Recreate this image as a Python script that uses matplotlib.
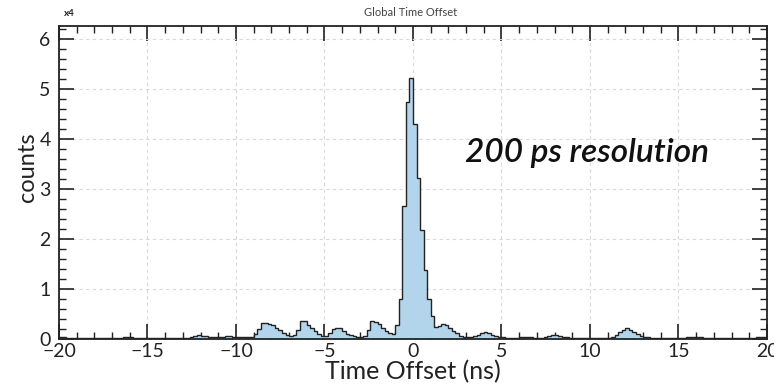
import numpy as np
import matplotlib
matplotlib.use("Agg")
import matplotlib.pyplot as plt
from matplotlib.ticker import MultipleLocator

# bin edges: 0.2 ns bins from -20 to 20 ns
edges = np.linspace(-20, 20, 201)

# counts in units of 1e4, one row per 2 ns
counts = [
    0.03, 0.03, 0.02, 0.01, 0.01, 0.01, 0.01, 0.01, 0.01, 0.01,   # -20..-18
    0.01, 0.01, 0.01, 0.01, 0.01, 0.01, 0.01, 0.02, 0.03, 0.03,   # -18..-16
    0.03, 0.02, 0.01, 0.01, 0.01, 0.01, 0.01, 0.01, 0.01, 0.01,   # -16..-14
    0.01, 0.01, 0.01, 0.01, 0.01, 0.01, 0.02, 0.04, 0.06, 0.07,   # -14..-12
    0.06, 0.05, 0.04, 0.04, 0.03, 0.03, 0.04, 0.05, 0.05, 0.04,   # -12..-10
    0.03, 0.03, 0.03, 0.03, 0.04, 0.09, 0.20, 0.31, 0.31, 0.30,   # -10..-8
    0.27, 0.22, 0.18, 0.12, 0.08, 0.05, 0.08, 0.18, 0.35, 0.35,   # -8..-6
    0.28, 0.22, 0.16, 0.10, 0.06, 0.06, 0.11, 0.19, 0.21, 0.21,   # -6..-4
    0.15, 0.10, 0.07, 0.05, 0.04, 0.04, 0.06, 0.18, 0.35, 0.33,   # -4..-2
    0.30, 0.22, 0.15, 0.12, 0.10, 0.27, 0.80, 2.65, 4.75, 5.23,   # -2..0
    4.31, 3.22, 2.17, 1.38, 0.80, 0.46, 0.24, 0.25, 0.30, 0.27,   # 0..2
    0.22, 0.16, 0.11, 0.06, 0.03, 0.03, 0.03, 0.05, 0.07, 0.12,   # 2..4
    0.14, 0.11, 0.08, 0.06, 0.04, 0.03, 0.02, 0.02, 0.02, 0.02,   # 4..6
    0.03, 0.04, 0.04, 0.03, 0.02, 0.02, 0.02, 0.03, 0.05, 0.07,   # 6..8
    0.07, 0.06, 0.04, 0.03, 0.02, 0.01, 0.01, 0.01, 0.01, 0.01,   # 8..10
    0.01, 0.01, 0.01, 0.01, 0.01, 0.02, 0.04, 0.08, 0.14, 0.17,   # 10..12
    0.21, 0.18, 0.14, 0.09, 0.06, 0.04, 0.03, 0.02, 0.01, 0.01,   # 12..14
    0.01, 0.01, 0.01, 0.01, 0.01, 0.01, 0.02, 0.03, 0.04, 0.04,   # 14..16
    0.04, 0.03, 0.02, 0.01, 0.01, 0.01, 0.01, 0.01, 0.01, 0.01,   # 16..18
    0.01, 0.01, 0.01, 0.01, 0.01, 0.01, 0.02, 0.03, 0.04, 0.04,   # 18..20
]

xticks = [-20, -15, -10, -5, 0, 5, 10, 15, 20]
yticks = [0, 1, 2, 3, 4, 5, 6]

plt.rcParams['font.family'] = ['Lato', 'DejaVu Sans']

fig = plt.figure(figsize=(7.74, 3.91), dpi=100)
ax = fig.add_axes([0.0762, 0.133, 0.9147, 0.8005])

ax.stairs(counts, edges, fill=True, color='#b3d5ec', zorder=2)
ax.stairs(counts, edges, color='#222222', linewidth=1.0, zorder=3)

ax.set_xlim(-20, 20)
ax.set_ylim(0, 6.26)
ax.set_xticks(xticks)
ax.set_yticks(yticks)
ax.xaxis.set_minor_locator(MultipleLocator(1))
ax.yaxis.set_minor_locator(MultipleLocator(0.2))
ax.tick_params(which='both', direction='in', top=True, right=True,
               labelsize=14, colors='#222222')
ax.tick_params(which='major', length=11, width=1.2)
ax.tick_params(which='minor', length=5, width=1.0)
ax.tick_params(axis='x', pad=3)
ax.tick_params(axis='y', pad=6)
for s in ax.spines.values():
    s.set_linewidth(1.3)
    s.set_color('#222222')

ax.grid(True, which='major', linestyle=(0, (3, 3)), color='#d8d8d8', linewidth=0.8, zorder=0)
ax.set_axisbelow(True)

ax.set_xlabel('Time Offset (ns)', fontsize=18, labelpad=0, color='#222222')
ax.set_ylabel('counts', fontsize=17, labelpad=4, color='#222222')
ax.yaxis.set_label_coords(-0.03, 0.55)

fig.text(0.531, 0.955, 'Global Time Offset', ha='center', va='bottom', fontsize=8, color='#444444')
fig.text(0.083, 0.955, 'x4', ha='left', va='bottom', fontsize=7, color='#222222', fontweight='bold')
ax.text(0.573, 0.594, '200 ps resolution', transform=ax.transAxes,
        fontsize=24, fontstyle='italic', fontweight='semibold', color='#111111',
        ha='left', va='center')

fig.savefig('out.png', dpi=100)
